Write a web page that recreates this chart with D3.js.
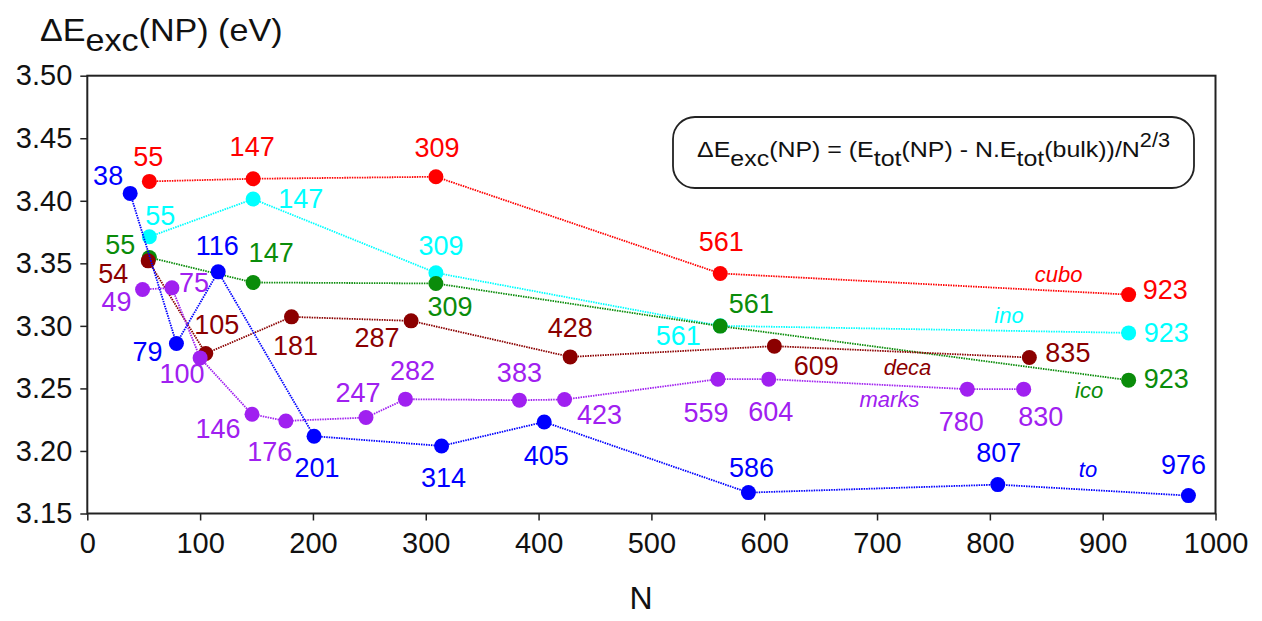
<!DOCTYPE html>
<html>
<head>
<meta charset="utf-8">
<script src="https://cdn.jsdelivr.net/npm/d3@7"></script>
<style>
  body { margin: 0; background: #fff; }
  text { font-family: "Liberation Sans", Arial, sans-serif; }
</style>
</head>
<body>
<svg id="chart" width="1262" height="621"></svg>
<script>
// Excess energy per N^(2/3) for each nanoparticle family, vs. atom count N
const cuboN  = [55, 147, 309, 561, 923];
const cuboE  = [3.4155, 3.4176, 3.4192, 3.3419, 3.3250];
const inoN   = [55, 147, 309, 561, 923];
const inoE   = [3.3712, 3.4014, 3.3424, 3.3000, 3.2944];
const icoN   = [55, 147, 309, 561, 923];
const icoE   = [3.3547, 3.3347, 3.3339, 3.2998, 3.2566];
const decaN  = [54, 105, 181, 287, 428, 609, 835];
const decaE  = [3.3520, 3.2779, 3.3072, 3.3040, 3.2752, 3.2838, 3.2747];
const marksN = [49, 75, 100, 146, 176, 247, 282, 383, 423, 559, 604, 780, 830];
const marksE = [3.3291, 3.3304, 3.2744, 3.2293, 3.2240, 3.2267, 3.2414, 3.2406, 3.2411, 3.2574, 3.2574, 3.2494, 3.2494];
const toN    = [38, 79, 116, 201, 314, 405, 586, 807, 976];
const toE    = [3.4059, 3.2859, 3.3432, 3.2118, 3.2040, 3.2232, 3.1667, 3.1731, 3.1643];

const xTicks = [0, 100, 200, 300, 400, 500, 600, 700, 800, 900, 1000];
const yTicks = [3.15, 3.20, 3.25, 3.30, 3.35, 3.40, 3.45, 3.50];

// Family names written next to their curves: [name, N, E]
const familyNames = [
  ["cubo", 861, 3.3352],
  ["ino", 817, 3.3024],
  ["deca", 727, 3.2606],
  ["marks", 711, 3.2352],
  ["ico", 888, 3.2427],
  ["to", 887, 3.1792]
];

// Placement of the size labels around each point: [dx, dy, anchor]
const M = "middle", S = "start", E = "end";
const cuboLab  = [[-1,-15,M],[-1,-23,M],[1,-20,M],[1,-22,M],[14,4,S]];
const inoLab   = [[11,-12,M],[25,9,S],[5,-18,M],[-42,19,M],[15,9,S]];
const icoLab   = [[-14,-3,E],[18,-20,M],[14,33,M],[31,-13,M],[15,8,S]];
const decaLab  = [[-20,22,E],[11,-20,M],[4,38,M],[-34,26,M],[0,-20,M],[42,29,M],[16,4,S]];
const marksLab = [[-11,22,E],[7,4,S],[-18,25,M],[-34,24,M],[-16,40,M],[-8,-16,M],[7,-19,M],[0,-18,M],[35,24,M],[-12,43,M],[2,42,M],[-6,42,M],[17,37,M]];
const toLab    = [[-7,-8,E],[-14,17,E],[-1,-17,M],[3,41,M],[2,41,M],[2,43,M],[3,-16,M],[1,-23,M],[-5,-22,M]];

const series = [
  { name: "cubo",  N: cuboN,  E: cuboE,  lab: cuboLab,  color: "#ff0000" },
  { name: "ino",   N: inoN,   E: inoE,   lab: inoLab,   color: "#00ffff" },
  { name: "ico",   N: icoN,   E: icoE,   lab: icoLab,   color: "#0a8c0a" },
  { name: "deca",  N: decaN,  E: decaE,  lab: decaLab,  color: "#8b0000" },
  { name: "marks", N: marksN, E: marksE, lab: marksLab, color: "#a020f0" },
  { name: "to",    N: toN,    E: toE,    lab: toLab,    color: "#0000ff" }
];
const colorOf = Object.fromEntries(series.map(s => [s.name, s.color]));

const svg = d3.select("#chart");
const x = d3.scaleLinear().domain([0, 1000]).range([87.3, 1215.5]);
const y = d3.scaleLinear().domain([3.15, 3.50]).range([513.5, 75.7]);

// Y axis ticks and labels
const yAxis = svg.append("g").attr("transform", `translate(${x(0)},0)`)
  .call(d3.axisLeft(y).tickValues(yTicks).tickFormat(d3.format(".2f")).tickSize(7).tickPadding(8));
yAxis.select(".domain").remove();
yAxis.selectAll("line").attr("stroke", "#222").attr("stroke-width", 1.5);
yAxis.selectAll("text").attr("font-size", 29).attr("fill", "#111")
  .attr("font-family", "Liberation Sans, Arial, sans-serif");

// X axis ticks and labels
const xAxis = svg.append("g").attr("transform", `translate(0,${y(3.15)})`)
  .call(d3.axisBottom(x).tickValues(xTicks).tickFormat(d3.format("d")).tickSize(7).tickPadding(12));
xAxis.select(".domain").remove();
xAxis.selectAll("line").attr("stroke", "#222").attr("stroke-width", 1.5);
xAxis.selectAll("text").attr("font-size", 29).attr("fill", "#111")
  .attr("font-family", "Liberation Sans, Arial, sans-serif");

// Plot frame
svg.append("rect")
  .attr("x", x(0)).attr("y", y(3.50))
  .attr("width", x(1000) - x(0)).attr("height", y(3.15) - y(3.50))
  .attr("fill", "none").attr("stroke", "#222").attr("stroke-width", 2);

// Axis titles (slightly widened glyphs)
const yTitle = svg.append("g").attr("transform", "translate(40,41) scale(1.1,1)")
  .append("text").attr("font-size", 31).attr("fill", "#111");
yTitle.append("tspan").text("ΔE");
yTitle.append("tspan").attr("dy", 10).text("exc");
yTitle.append("tspan").attr("dy", -10).text("(NP) (eV)");

svg.append("text").attr("x", 641).attr("y", 609).attr("text-anchor", "middle")
  .attr("font-size", 32).attr("fill", "#111").text("N");

// Formula box
svg.append("rect").attr("x", 673).attr("y", 117).attr("width", 521).attr("height", 71)
  .attr("rx", 22).attr("ry", 22)
  .attr("fill", "#fff").attr("stroke", "#222").attr("stroke-width", 1.8);
const f = svg.append("g").attr("transform", "translate(697,157) scale(1.085,1)")
  .append("text").attr("font-size", 23).attr("fill", "#111");
f.append("tspan").text("ΔE");
f.append("tspan").attr("dy", 9).text("exc");
f.append("tspan").attr("dy", -9).text("(NP) = (E");
f.append("tspan").attr("dy", 9).text("tot");
f.append("tspan").attr("dy", -9).text("(NP) - N.E");
f.append("tspan").attr("dy", 9).text("tot");
f.append("tspan").attr("dy", -9).text("(bulk))/N");
f.append("tspan").attr("dy", -10).attr("font-size", 20).text("2/3");

// Curves, points and size labels
const line = d3.line().x(d => x(d[0])).y(d => y(d[1]));
series.forEach(s => {
  const pts = s.N.map((n, i) => [n, s.E[i]]);
  const g = svg.append("g");
  g.append("path").datum(pts).attr("d", line)
    .attr("fill", "none").attr("stroke", s.color)
    .attr("stroke-width", 1.8).attr("stroke-dasharray", "1.5,1");
  g.selectAll("circle").data(pts).join("circle")
    .attr("cx", d => x(d[0])).attr("cy", d => y(d[1])).attr("r", 7.5)
    .attr("fill", s.color);
  g.selectAll("text").data(pts).join("text")
    .attr("x", (d, i) => x(d[0]) + s.lab[i][0])
    .attr("y", (d, i) => y(d[1]) + s.lab[i][1])
    .attr("text-anchor", (d, i) => s.lab[i][2])
    .attr("font-size", 27).attr("fill", s.color)
    .text(d => d[0]);
});

// Family names in italics
svg.append("g").selectAll("text").data(familyNames).join("text")
  .attr("x", d => x(d[1])).attr("y", d => y(d[2]))
  .attr("text-anchor", "middle").attr("font-style", "italic")
  .attr("font-size", 22).attr("fill", d => colorOf[d[0]])
  .text(d => d[0]);
</script>
</body>
</html>
